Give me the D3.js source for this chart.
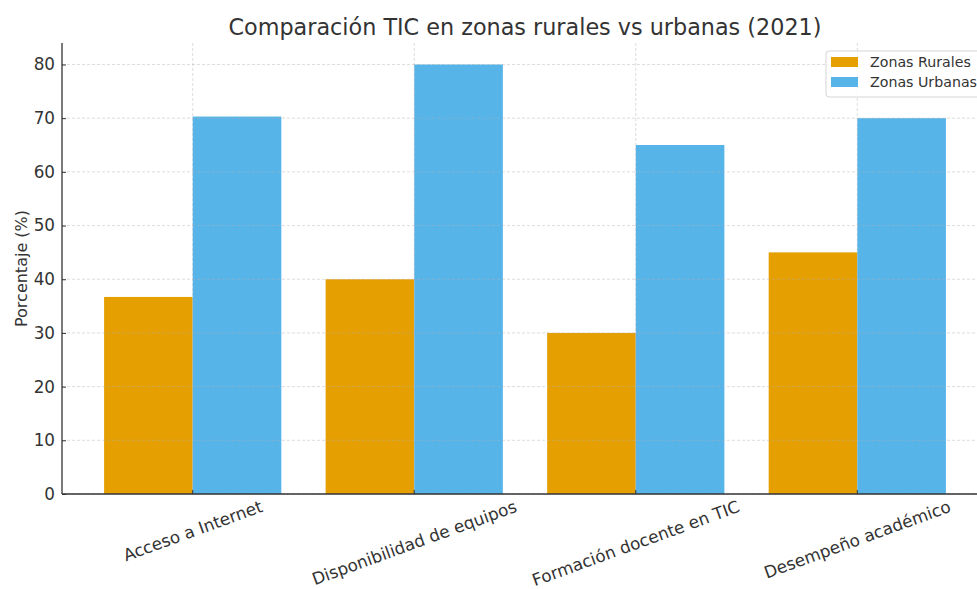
<!DOCTYPE html>
<html>
<head>
<meta charset="utf-8">
<script src="https://cdn.jsdelivr.net/npm/d3@7.9.0/dist/d3.min.js"></script>
<style>
  body { margin: 0; background: #fff; }
  svg { font-family: "DejaVu Sans", sans-serif; }
</style>
</head>
<body>
<div id="chart"></div>
<script>
const categories = ["Acceso a Internet", "Disponibilidad de equipos", "Formación docente en TIC", "Desempeño académico"];
const series = ["Zonas Rurales", "Zonas Urbanas"];
const rural = [36.7, 40, 30, 45];
const urban = [70.3, 80, 65, 70];
const yTicks = [0, 10, 20, 30, 40, 50, 60, 70, 80];

const width = 977;
const height = 589;
const colors = { "Zonas Rurales": "#E69F00", "Zonas Urbanas": "#56B4E9" };
const textColor = "#333333";

const usableArea = { left: 62, right: 988, top: 43, bottom: 494 };

const svg = d3.select("#chart")
  .append("svg")
  .attr("width", width)
  .attr("height", height);

const xScale = d3.scaleBand()
  .domain(categories)
  .range([usableArea.left, usableArea.right])
  .paddingInner(0.2)
  .paddingOuter(0.19);

const subScale = d3.scaleBand()
  .domain(series)
  .range([0, xScale.bandwidth()]);

const yScale = d3.scaleLinear()
  .domain([0, 84])
  .range([usableArea.bottom, usableArea.top]);

const data = categories.map((c, i) => ({
  category: c,
  values: [
    { key: "Zonas Rurales", value: rural[i] },
    { key: "Zonas Urbanas", value: urban[i] }
  ]
}));

// bars
const groups = svg.append("g").attr("class", "bars")
  .selectAll("g")
  .data(data)
  .join("g")
  .attr("transform", d => `translate(${xScale(d.category)},0)`);

groups.selectAll("rect")
  .data(d => d.values)
  .join("rect")
  .attr("x", d => subScale(d.key))
  .attr("y", d => yScale(d.value))
  .attr("width", subScale.bandwidth())
  .attr("height", d => yScale(0) - yScale(d.value))
  .attr("fill", d => colors[d.key]);

// gridlines (on top of bars, like matplotlib)
const grid = svg.append("g").attr("class", "grid")
  .attr("stroke", "#b0b0b0")
  .attr("stroke-opacity", 0.55)
  .attr("stroke-width", 0.8)
  .attr("stroke-dasharray", "3,2");

grid.selectAll("line.h")
  .data(yTicks)
  .join("line")
  .attr("class", "h")
  .attr("x1", usableArea.left)
  .attr("x2", usableArea.right)
  .attr("y1", d => yScale(d))
  .attr("y2", d => yScale(d));

grid.selectAll("line.v")
  .data(categories)
  .join("line")
  .attr("class", "v")
  .attr("x1", d => xScale(d) + xScale.bandwidth() / 2)
  .attr("x2", d => xScale(d) + xScale.bandwidth() / 2)
  .attr("y1", usableArea.top)
  .attr("y2", usableArea.bottom);

// y axis
const yAxis = svg.append("g")
  .attr("transform", `translate(${usableArea.left},0)`)
  .call(d3.axisLeft(yScale).tickValues(yTicks).tickSize(-4).tickPadding(7));

yAxis.select(".domain").remove();
yAxis.selectAll(".tick line").attr("stroke", textColor);
yAxis.selectAll(".tick text")
  .attr("fill", textColor)
  .style("font-size", "16.8px")
  .style("font-family", "DejaVu Sans");

// x axis ticks
const xAxis = svg.append("g")
  .attr("transform", `translate(0,${usableArea.bottom})`)
  .call(d3.axisBottom(xScale).tickSize(-4).tickFormat(""));
xAxis.select(".domain").remove();
xAxis.selectAll(".tick line").attr("stroke", textColor);

// spines
svg.append("line")
  .attr("x1", usableArea.left).attr("x2", usableArea.left)
  .attr("y1", usableArea.top).attr("y2", usableArea.bottom)
  .attr("stroke", textColor).attr("stroke-width", 1.3);
svg.append("line")
  .attr("x1", usableArea.left).attr("x2", usableArea.right)
  .attr("y1", usableArea.bottom).attr("y2", usableArea.bottom)
  .attr("stroke", textColor).attr("stroke-width", 1.3);

// rotated category labels, bbox top aligned under the axis
const angle = 20 * Math.PI / 180;
const labelSize = 16.8;
svg.append("g").attr("class", "xlabels")
  .selectAll("text")
  .data(categories)
  .join("text")
  .text(d => d)
  .attr("text-anchor", "middle")
  .attr("dominant-baseline", "central")
  .attr("fill", textColor)
  .style("font-size", labelSize + "px")
  .attr("transform", function(d) {
    const w = this.getComputedTextLength();
    const h = labelSize * 1.1;
    const bboxH = w * Math.sin(angle) + h * Math.cos(angle);
    const cx = xScale(d) + xScale.bandwidth() / 2;
    const cy = usableArea.bottom + 3 + bboxH / 2;
    return `translate(${cx},${cy}) rotate(-20)`;
  });

// axis label
svg.append("text")
  .attr("text-anchor", "middle")
  .attr("transform", `translate(27,${(usableArea.top + usableArea.bottom) / 2}) rotate(-90)`)
  .attr("fill", textColor)
  .style("font-size", "16px")
  .text("Porcentaje (%)");

// title
svg.append("text")
  .attr("x", (usableArea.left + usableArea.right) / 2)
  .attr("y", 35)
  .attr("text-anchor", "middle")
  .attr("fill", textColor)
  .style("font-size", "22.3px")
  .text("Comparación TIC en zonas rurales vs urbanas (2021)");

// legend
const legend = svg.append("g").attr("transform", "translate(826,51)");
legend.append("rect")
  .attr("width", 162)
  .attr("height", 46)
  .attr("rx", 3)
  .attr("fill", "#fff")
  .attr("fill-opacity", 0.8)
  .attr("stroke", "#d5d5d5");

const entries = legend.selectAll("g.entry")
  .data(series)
  .join("g")
  .attr("class", "entry")
  .attr("transform", (d, i) => `translate(5,${6 + i * 20})`);

entries.append("rect")
  .attr("width", 27)
  .attr("height", 10)
  .attr("fill", d => colors[d]);

entries.append("text")
  .attr("x", 39)
  .attr("y", 5)
  .attr("dominant-baseline", "central")
  .attr("fill", textColor)
  .style("font-size", "14.2px")
  .text(d => d);
</script>
</body>
</html>
